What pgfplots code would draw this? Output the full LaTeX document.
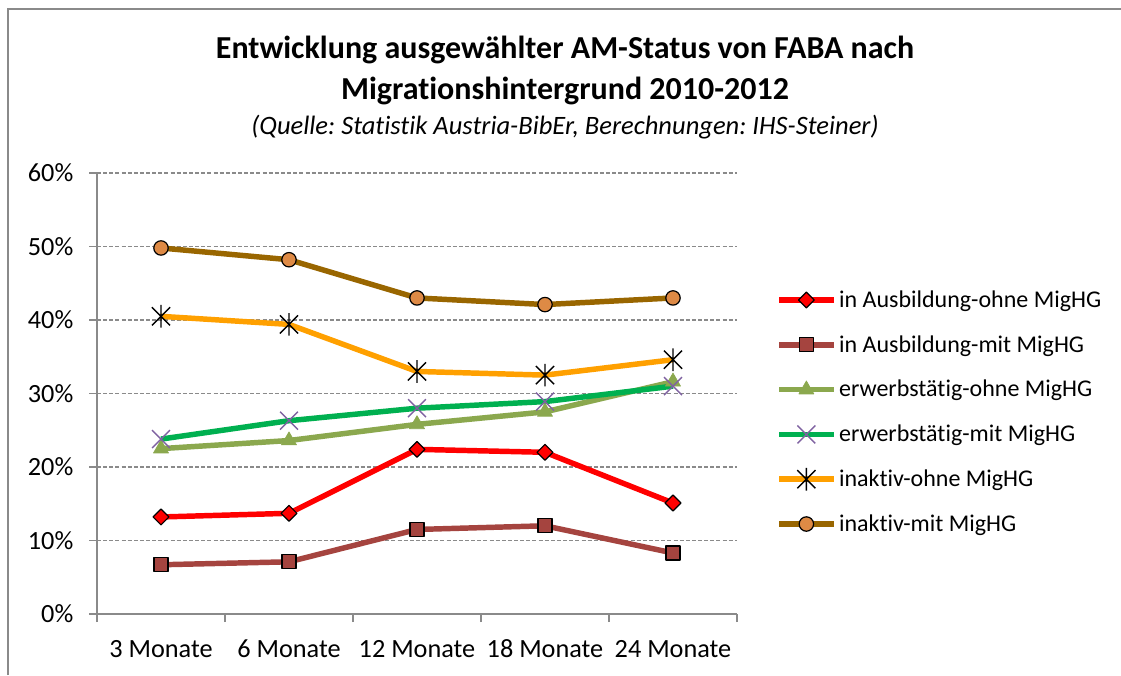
\documentclass[border=0pt]{standalone}
\usepackage{fontspec}
\setmainfont{Carlito}[Ligatures={NoCommon}]
\usepackage{pgfplots}
\pgfplotsset{compat=1.18}
\frenchspacing
\definecolor{cRed}{HTML}{FF0000}
\definecolor{cDarkRed}{HTML}{A5443F}
\definecolor{cOlive}{HTML}{8BA84E}
\definecolor{cGreen}{HTML}{00B050}
\definecolor{cPurple}{HTML}{7F62A1}
\definecolor{cOrange}{HTML}{FFA000}
\definecolor{cBrown}{HTML}{996600}
\definecolor{cCircle}{HTML}{DE8A45}
\definecolor{cAxis}{HTML}{8A8A8A}
\pgfdeclareplotmark{xstar}{%
  \pgfpathmoveto{\pgfqpoint{0pt}{-\pgfplotmarksize}}%
  \pgfpathlineto{\pgfqpoint{0pt}{\pgfplotmarksize}}%
  \pgfpathmoveto{\pgfqpoint{-.8\pgfplotmarksize}{-.8\pgfplotmarksize}}%
  \pgfpathlineto{\pgfqpoint{.8\pgfplotmarksize}{.8\pgfplotmarksize}}%
  \pgfpathmoveto{\pgfqpoint{-.8\pgfplotmarksize}{.8\pgfplotmarksize}}%
  \pgfpathlineto{\pgfqpoint{.8\pgfplotmarksize}{-.8\pgfplotmarksize}}%
  \pgfusepathqstroke}
\begin{document}
\begin{tikzpicture}[font=\fontsize{19.7pt}{23pt}\selectfont]
\path[use as bounding box] (0pt,0pt) rectangle (840.75pt,506.25pt);
\draw[cAxis, line width=1.1pt] (6pt,0pt) -- (6pt,499.5pt) -- (840.75pt,499.5pt);
\node[anchor=base, font=\fontsize{24pt}{28pt}\selectfont\bfseries] at (423.75pt,462pt) {Entwicklung ausgewählter AM-Status von FABA nach};
\node[anchor=base, font=\fontsize{24pt}{28pt}\selectfont\bfseries] at (423.75pt,431.5pt) {Migrationshintergrund 2010-2012};
\node[anchor=base, font=\fontsize{19.9pt}{23pt}\selectfont\itshape] at (423.75pt,405pt) {(Quelle: Statistik Austria-BibEr, Berechnungen: IHS-Steiner)};
\begin{axis}[
  at={(72.75pt,45.75pt)}, anchor=south west,
  scale only axis, width=480pt, height=330.75pt,
  xmin=-0.5, xmax=4.5, ymin=0, ymax=60,
  xtick={-0.5,0.5,1.5,2.5,3.5,4.5},
  x tick label as interval,
  xticklabels={3 Monate,6 Monate,12 Monate,18 Monate,24 Monate},
  xticklabel style={anchor=base, yshift=-26.5pt},
  ytick={0,10,20,30,40,50,60},
  yticklabels={0\%,10\%,20\%,30\%,40\%,50\%,60\%},
  yticklabel style={xshift=-8.25pt},
  axis lines*=left,
  axis line style={draw=cAxis, line width=1.1pt, -},
  tick align=outside, major tick length=6pt,
  tick style={draw=cAxis, line width=1.1pt},
  ymajorgrids, grid style={draw=cAxis, dash pattern=on 3pt off 1.6pt, line width=0.8pt},
  legend style={at={(axis description cs:1.061,0.458)}, anchor=west, draw=none, fill=none,
    row sep=15.6pt, inner sep=0pt, nodes={inner sep=2pt}, font=\fontsize{18pt}{21pt}\selectfont},
  legend cell align=left,
  legend image code/.code={\draw[mark repeat=2,mark phase=2,#1] plot coordinates {(0pt,0pt) (20.5pt,0pt) (41pt,0pt)};},
  every axis plot/.append style={line width=4.1pt, line join=round},
]
\addplot[color=cRed, mark=square*, mark size=4.2pt, mark options={fill=cRed, draw=black, line width=0.9pt, rotate=45}]
  coordinates {(0,13.2) (1,13.7) (2,22.4) (3,22.0) (4,15.1)};
\addlegendentry{in Ausbildung-ohne MigHG}
\addplot[color=cDarkRed, mark=square*, mark size=5.2pt, mark options={fill=cDarkRed, draw=black, line width=0.9pt}]
  coordinates {(0,6.7) (1,7.1) (2,11.5) (3,12.0) (4,8.3)};
\addlegendentry{in Ausbildung-mit MigHG}
\addplot[color=cOlive, mark=triangle*, mark size=6.5pt, mark options={fill=cOlive, draw=cOlive, line width=0.5pt}]
  coordinates {(0,22.5) (1,23.6) (2,25.8) (3,27.5) (4,31.6)};
\addlegendentry{erwerbstätig-ohne MigHG}
\addplot[color=cGreen, mark=x, mark size=9.5pt, mark options={draw=cPurple, line width=1.1pt}]
  coordinates {(0,23.8) (1,26.3) (2,28.0) (3,28.9) (4,31.0)};
\addlegendentry{erwerbstätig-mit MigHG}
\addplot[color=cOrange, mark=xstar, mark size=8.5pt, mark options={draw=black, line width=1.1pt}]
  coordinates {(0,40.5) (1,39.4) (2,33.0) (3,32.5) (4,34.6)};
\addlegendentry{inaktiv-ohne MigHG}
\addplot[color=cBrown, mark=*, mark size=5.4pt, mark options={fill=cCircle, draw=black, line width=0.9pt}]
  coordinates {(0,49.8) (1,48.2) (2,43.0) (3,42.1) (4,43.0)};
\addlegendentry{inaktiv-mit MigHG}
\end{axis}
\end{tikzpicture}
\end{document}
